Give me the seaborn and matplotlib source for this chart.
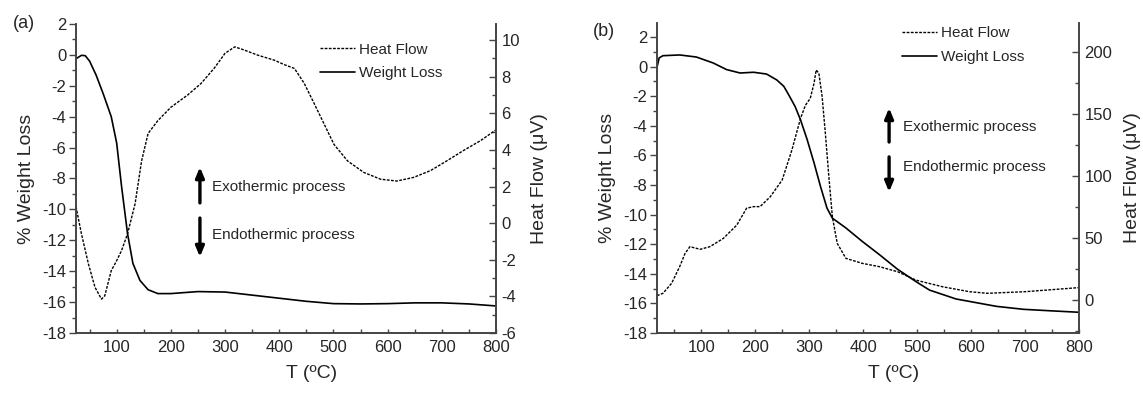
import matplotlib
matplotlib.use("Agg")
import matplotlib.pyplot as plt
import seaborn as sns
from matplotlib.ticker import MultipleLocator

sns.set_style("ticks")
plt.rcParams['font.family'] = ['Liberation Sans', 'DejaVu Sans']
plt.rcParams['axes.unicode_minus'] = False

# ---- panel (a) ----
t_wl_a = [25, 35, 42, 50, 62, 75, 90, 100, 109, 120, 130, 143, 158, 176, 200, 250, 300,
          350, 400, 450, 500, 550, 600, 650, 700, 750, 800]
wl_a = [-0.25, -0.03, -0.05, -0.4, -1.3, -2.5, -4.0, -5.7, -8.5, -11.55, -13.5, -14.6, -15.2,
        -15.45, -15.45, -15.32, -15.35, -15.55, -15.75, -15.95, -16.1, -16.12, -16.1, -16.05,
        -16.05, -16.12, -16.25]
t_hf_a = [25, 35, 48, 60, 72, 78, 90, 100, 109, 120, 134, 146, 158, 176, 200, 231, 256, 281,
          300, 318, 336, 360, 391, 410, 428, 446, 465, 483, 501, 526, 556, 587, 617, 648, 679,
          709, 740, 771, 800]
hf_a = [0.9, -0.58, -2.24, -3.5, -4.15, -3.97, -2.6, -2.05, -1.5, -0.59, 1.06, 3.4, 4.9, 5.6,
        6.33, 7.0, 7.64, 8.5, 9.28, 9.63, 9.45, 9.18, 8.9, 8.65, 8.45, 7.64, 6.5, 5.4, 4.3, 3.4,
        2.77, 2.4, 2.3, 2.5, 2.87, 3.4, 3.97, 4.5, 5.1]

# ---- panel (b) ----
t_wl_b = [18, 22, 29, 60, 91, 122, 147, 172, 197, 221, 240, 253, 262, 274, 284, 296, 309, 321,
          333, 343, 368, 398, 430, 464, 498, 523, 572, 647, 697, 747, 800]
wl_b = [-0.05, 0.59, 0.74, 0.79, 0.65, 0.25, -0.2, -0.43, -0.38, -0.5, -0.9, -1.33, -1.9, -2.7,
        -3.6, -4.9, -6.5, -8.1, -9.56, -10.24, -10.9, -11.8, -12.7, -13.7, -14.53, -15.1, -15.7,
        -16.2, -16.4, -16.5, -16.6]
t_hf_b = [18, 29, 45, 60, 70, 79, 98, 116, 141, 166, 184, 197, 209, 228, 250, 268, 284, 293,
          302, 309, 313, 318, 324, 330, 337, 343, 352, 368, 398, 430, 464, 498, 547, 597, 630,
          700, 800]
hf_b = [3.5, 5.4, 13.4, 26.9, 37.6, 43, 40.9, 43, 49.7, 60.5, 74, 75.3, 75.3, 83.3, 96.8, 121,
        146.5, 157, 162.6, 174.7, 185.5, 182.8, 164, 134.4, 96.8, 67, 45.7, 33.6, 29.6, 26.9,
        22.8, 16, 10.7, 6.7, 5.4, 6.7, 10]

SPINE = '#444444'


def panel(fig, rect, tag, tag_xy, t_wl, wl, t_hf, hf, xlim, ylim_r, r_major, r_minor,
          leg_anchor, arr_x, up_y, down_y, txt_x, up_txt_y, down_txt_y):
    ax = fig.add_axes(rect)
    ax2 = ax.twinx()

    sns.lineplot(x=t_wl, y=wl, ax=ax, color='black', lw=1.2, label='Weight Loss', legend=False)
    sns.lineplot(x=t_hf, y=hf, ax=ax2, color='black', lw=1.0, linestyle=(0, (2, 1)),
                 label='Heat Flow', legend=False)

    ax.set_xlim(*xlim)
    ax.set_ylim(-18, 2 if tag == '(a)' else 2.95)
    ax2.set_ylim(*ylim_r)
    ax.xaxis.set_major_locator(MultipleLocator(100))
    ax.xaxis.set_minor_locator(MultipleLocator(50))
    ax.yaxis.set_major_locator(MultipleLocator(2))
    ax.yaxis.set_minor_locator(MultipleLocator(1))
    ax2.yaxis.set_major_locator(MultipleLocator(r_major))
    ax2.yaxis.set_minor_locator(MultipleLocator(r_minor))
    ax.set_xticks([t for t in range(100, 801, 100)])

    for a in (ax, ax2):
        a.spines['top'].set_visible(False)
        for s in ('left', 'right', 'bottom'):
            a.spines[s].set_color(SPINE)
            a.spines[s].set_linewidth(1.2)
    ax.tick_params(axis='y', which='major', direction='out', length=5, width=1, color=SPINE,
                   labelsize=12, pad=2)
    ax.tick_params(axis='y', which='minor', direction='out', length=3, width=1, color=SPINE)
    ax.tick_params(axis='x', which='both', direction='in', length=3, width=1, color=SPINE,
                   labelsize=12, pad=5)
    ax2.tick_params(axis='y', which='major', direction='in', length=5, width=1, color=SPINE,
                    labelsize=12, pad=4)
    ax2.tick_params(axis='y', which='minor', direction='in', length=3, width=1, color=SPINE)

    ax.set_xlabel('T (ºC)', fontsize=14, labelpad=7, x=0.56)
    ax.set_ylabel('% Weight Loss', fontsize=14, labelpad=5)
    ax2.set_ylabel('Heat Flow (μV)', fontsize=14, labelpad=8)

    handles = ax2.get_lines()[:1] + ax.get_lines()[:1]
    ax2.legend(handles, ['Heat Flow', 'Weight Loss'], loc='upper left', bbox_to_anchor=leg_anchor,
               frameon=False, fontsize=11, borderpad=0, borderaxespad=0, handlelength=2.3,
               handletextpad=0.25, labelspacing=0.65)

    arrow = dict(arrowstyle='-|>,head_length=0.6,head_width=0.25', lw=2.4, color='black',
                 shrinkA=0, shrinkB=0)
    ax2.annotate('', xy=(arr_x, up_y[1]), xytext=(arr_x, up_y[0]), xycoords='axes fraction',
                 arrowprops=arrow)
    ax2.annotate('', xy=(arr_x, down_y[1]), xytext=(arr_x, down_y[0]), xycoords='axes fraction',
                 arrowprops=arrow)
    ax2.text(txt_x, up_txt_y, 'Exothermic process', transform=ax2.transAxes, fontsize=11,
             va='center')
    ax2.text(txt_x, down_txt_y, 'Endothermic process', transform=ax2.transAxes, fontsize=11,
             va='center')
    fig.text(tag_xy[0], tag_xy[1], tag, fontsize=13, ha='center', va='center')


fig = plt.figure(figsize=(11.43, 3.93), dpi=100)

panel(fig, [0.0665, 0.1527, 0.3675, 0.7863], '(a)', (0.021, 0.94),
      t_wl_a, wl_a, t_hf_a, hf_a, (25, 800), (-6, 10.88), 2, 1,
      (0.58, 0.94), 0.295, (0.421, 0.537), (0.372, 0.246), 0.324, 0.472, 0.317)

panel(fig, [0.5748, 0.1527, 0.3692, 0.7888], '(b)', (0.528, 0.92),
      t_wl_b, wl_b, t_hf_b, hf_b, (18, 800), (-26.6, 223.4), 50, 25,
      (0.58, 0.99), 0.55, (0.616, 0.726), (0.568, 0.455), 0.583, 0.665, 0.535)

fig.savefig('out.png', dpi=100)
